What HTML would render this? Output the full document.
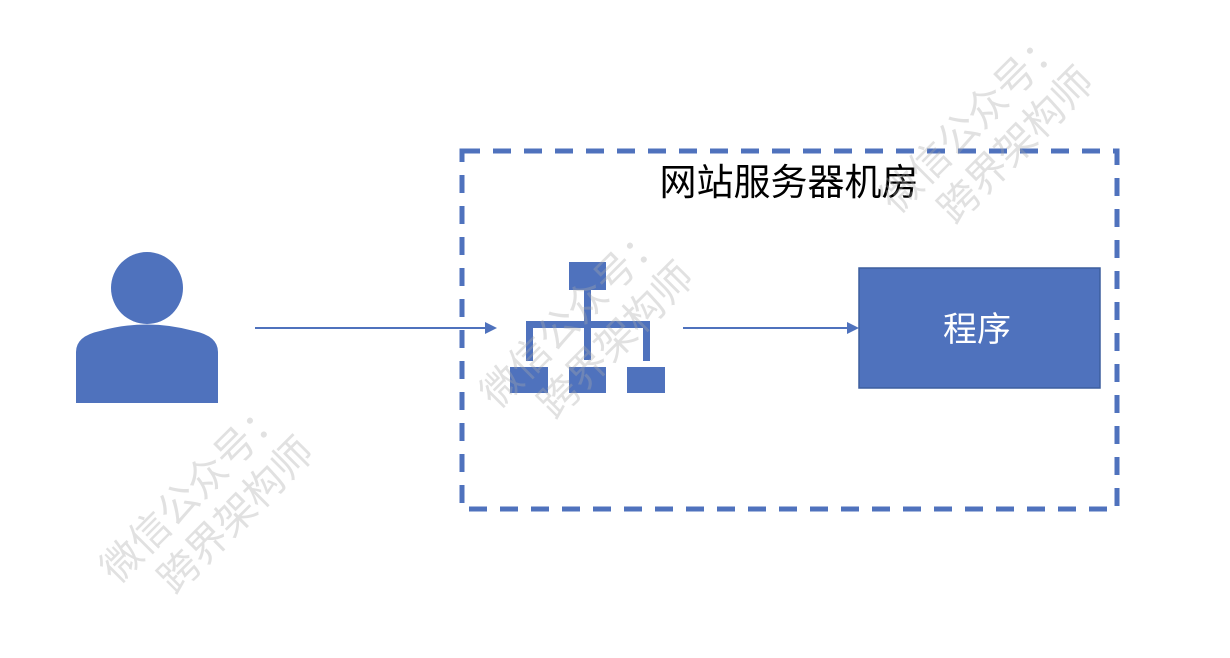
<!DOCTYPE html>
<html><head><meta charset="utf-8"><style>
body{margin:0;width:1230px;height:658px;background:#fff;overflow:hidden;position:relative;font-family:"Liberation Sans","Noto Sans CJK SC",sans-serif}
.wm{position:absolute;color:rgba(170,170,170,0.35);font-size:40px;line-height:48px;transform:rotate(-45deg);transform-origin:center;white-space:nowrap;text-align:left}
</style></head><body>
<svg width="1230" height="658" style="position:absolute;left:0;top:0">
<rect x="462" y="151" width="655" height="358" fill="none" stroke="#4f72bd" stroke-width="5" stroke-dasharray="18,13"/>
<circle cx="147" cy="288" r="36" fill="#4f72bd"/>
<path d="M76 403 V352 Q76 336 100 331 Q147 318 194 331 Q218 336 218 352 V403 Z" fill="#4f72bd"/>
<line x1="255" y1="328" x2="488" y2="328" stroke="#4f72bd" stroke-width="2"/>
<polygon points="497,328 485,322 485,334" fill="#4f72bd"/>
<line x1="683" y1="328" x2="850" y2="328" stroke="#4f72bd" stroke-width="2"/>
<polygon points="859,328 847,322 847,334" fill="#4f72bd"/>
<g fill="#4f72bd">
<rect x="569" y="262" width="37" height="28"/>
<rect x="584" y="290" width="7" height="70"/>
<rect x="526" y="321" width="124" height="7"/>
<rect x="526" y="321" width="7" height="40"/>
<rect x="643" y="321" width="7" height="40"/>
<rect x="510" y="367" width="38" height="26"/>
<rect x="569" y="367" width="37" height="26"/>
<rect x="627" y="367" width="38" height="26"/>
</g>
<rect x="859" y="268" width="241" height="120" fill="#4f72bd" stroke="#3d5e9e" stroke-width="1.5"/>
<text x="977" y="341" font-size="34" fill="#fff" text-anchor="middle" font-family="Liberation Sans, Noto Sans CJK SC, sans-serif">程序</text>
<text x="789" y="195" font-size="37" fill="#000" text-anchor="middle" font-family="Liberation Sans, Noto Sans CJK SC, sans-serif">网站服务器机房</text>
</svg>
<div class="wm" style="left:90px;top:460px">微信公众号：<br>&nbsp;&nbsp;&nbsp;跨界架构师</div>
<div class="wm" style="left:470px;top:285px">微信公众号：<br>&nbsp;&nbsp;&nbsp;跨界架构师</div>
<div class="wm" style="left:870px;top:90px">微信公众号：<br>&nbsp;&nbsp;&nbsp;跨界架构师</div>
</body></html>
